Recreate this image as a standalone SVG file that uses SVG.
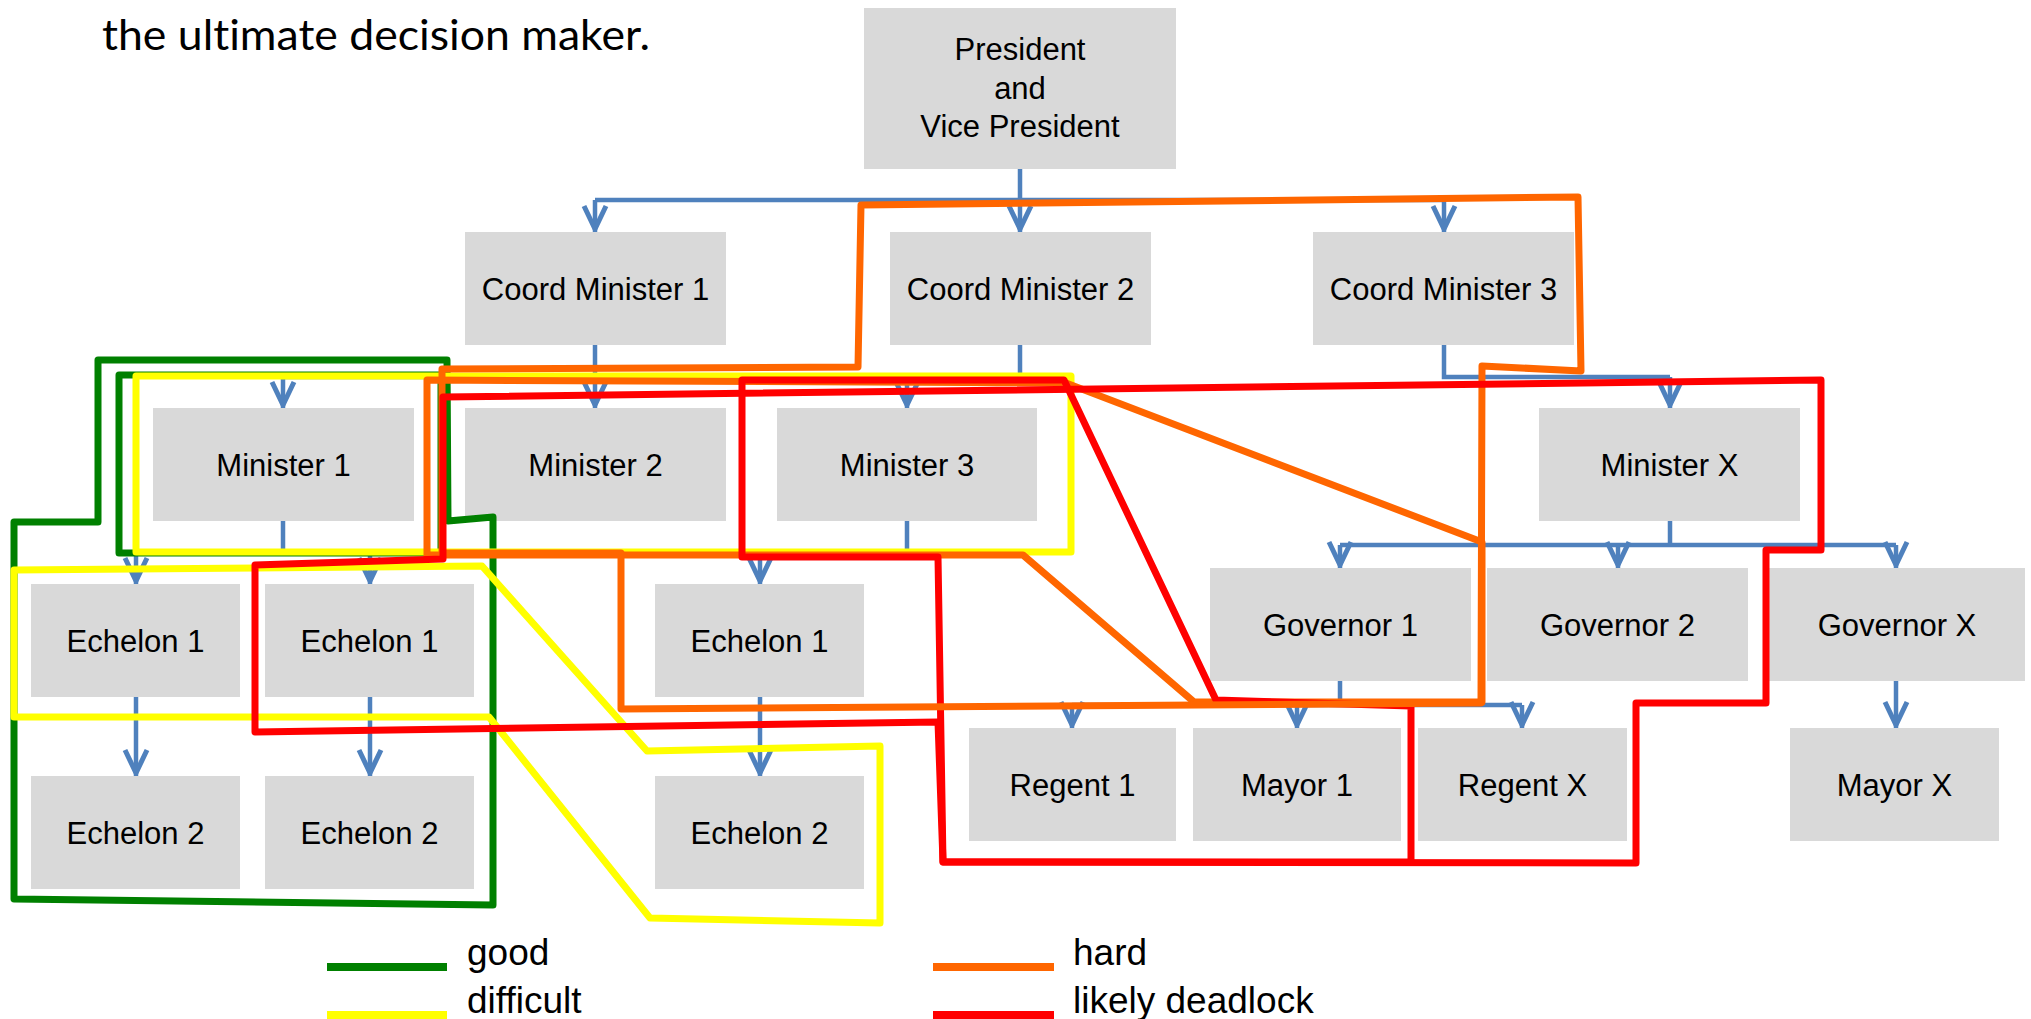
<svg xmlns="http://www.w3.org/2000/svg" width="2031" height="1019" viewBox="0 0 2031 1019">
<style>
.box{fill:#D9D9D9}
.t{font-family:"Liberation Sans",Arial,sans-serif;font-size:31px;fill:#000;text-anchor:middle}
.lg{font-family:"Liberation Sans",Arial,sans-serif;font-size:37px;fill:#000}
.c{fill:none;stroke:#4F81BD;stroke-width:4.5}
.a{marker-end:url(#arr)}
.h{fill:none;stroke-width:7;stroke-linejoin:round}
.g{stroke:#008000}.y{stroke:#FFFF00}.o{stroke:#FF6600}.r{stroke:#FF0000}
</style>
<defs>
<marker id="arr" markerUnits="userSpaceOnUse" markerWidth="34" markerHeight="32" viewBox="-28 -16 34 32" refX="3" refY="0" orient="auto" overflow="visible">
<path d="M-23,-11 L0,0 L-23,11" fill="none" stroke="#4F81BD" stroke-width="5"/>
</marker>
</defs>
<rect width="2031" height="1019" fill="#fff"/>
<text x="102" y="50" style="font-family:Lato,'Open Sans',sans-serif;font-size:43px;fill:#000;font-variant-ligatures:none" textLength="548" lengthAdjust="spacingAndGlyphs">the ultimate decision maker.</text>

<g id="connectors">
<path class="c" d="M1020,169 V200 M595,200 H1444"/>
<path class="c a" d="M595,200 V232"/>
<path class="c a" d="M1020,200 V232"/>
<path class="c a" d="M1444,200 V232"/>
<path class="c a" d="M595,345 V408"/>
<path class="c" d="M1020,345 V377 M283,377 H1020"/>
<path class="c a" d="M283,377 V408"/>
<path class="c a" d="M907,377 V408"/>
<path class="c" d="M1444,345 V377 H1670"/>
<path class="c a" d="M1670,377 V408"/>
<path class="c" d="M1670,521 V545 M1340,545 H1896"/>
<path class="c a" d="M1340,545 V568"/>
<path class="c a" d="M1618,545 V568"/>
<path class="c a" d="M1896,545 V568"/>
<path class="c" d="M1340,681 V705 M1072,705 H1522"/>
<path class="c a" d="M1072,705 V728"/>
<path class="c a" d="M1297,705 V728"/>
<path class="c a" d="M1522,705 V728"/>
<path class="c a" d="M1896,681 V728"/>
<path class="c" d="M283,521 V553 M136,553 H370"/>
<path class="c a" d="M136,553 V584"/>
<path class="c a" d="M370,553 V584"/>
<path class="c" d="M907,521 V553 H760"/>
<path class="c a" d="M760,553 V584"/>
<path class="c a" d="M136,697 V776"/>
<path class="c a" d="M370,697 V776"/>
<path class="c a" d="M760,697 V776"/>
</g>

<g id="president"><rect class="box" x="864" y="8" width="312" height="161"/>
<text class="t" x="1020" y="60">President</text><text class="t" x="1020" y="99">and</text><text class="t" x="1020" y="137">Vice President</text></g>
<g id="coord1"><rect class="box" x="465" y="232" width="261" height="113"/><text class="t" x="595.5" y="300">Coord Minister 1</text></g>
<g id="coord2"><rect class="box" x="890" y="232" width="261" height="113"/><text class="t" x="1020.5" y="300">Coord Minister 2</text></g>
<g id="coord3"><rect class="box" x="1313" y="232" width="261" height="113"/><text class="t" x="1443.5" y="300">Coord Minister 3</text></g>
<g id="minister1"><rect class="box" x="153" y="408" width="261" height="113"/><text class="t" x="283.5" y="476">Minister 1</text></g>
<g id="minister2"><rect class="box" x="465" y="408" width="261" height="113"/><text class="t" x="595.5" y="476">Minister 2</text></g>
<g id="minister3"><rect class="box" x="777" y="408" width="260" height="113"/><text class="t" x="907" y="476">Minister 3</text></g>
<g id="ministerX"><rect class="box" x="1539" y="408" width="261" height="113"/><text class="t" x="1669.5" y="476">Minister X</text></g>
<g id="ech1a"><rect class="box" x="31" y="584" width="209" height="113"/><text class="t" x="135.5" y="652">Echelon 1</text></g>
<g id="ech1b"><rect class="box" x="265" y="584" width="209" height="113"/><text class="t" x="369.5" y="652">Echelon 1</text></g>
<g id="ech1c"><rect class="box" x="655" y="584" width="209" height="113"/><text class="t" x="759.5" y="652">Echelon 1</text></g>
<g id="ech2a"><rect class="box" x="31" y="776" width="209" height="113"/><text class="t" x="135.5" y="844">Echelon 2</text></g>
<g id="ech2b"><rect class="box" x="265" y="776" width="209" height="113"/><text class="t" x="369.5" y="844">Echelon 2</text></g>
<g id="ech2c"><rect class="box" x="655" y="776" width="209" height="113"/><text class="t" x="759.5" y="844">Echelon 2</text></g>
<g id="gov1"><rect class="box" x="1210" y="568" width="261" height="113"/><text class="t" x="1340.5" y="636">Governor 1</text></g>
<g id="gov2"><rect class="box" x="1487" y="568" width="261" height="113"/><text class="t" x="1617.5" y="636">Governor 2</text></g>
<g id="govX"><rect class="box" x="1769" y="568" width="256" height="113"/><text class="t" x="1897" y="636">Governor X</text></g>
<g id="regent1"><rect class="box" x="969" y="728" width="207" height="113"/><text class="t" x="1072.5" y="796">Regent 1</text></g>
<g id="mayor1"><rect class="box" x="1193" y="728" width="208" height="113"/><text class="t" x="1297" y="796">Mayor 1</text></g>
<g id="regentX"><rect class="box" x="1418" y="728" width="209" height="113"/><text class="t" x="1522.5" y="796">Regent X</text></g>
<g id="mayorX"><rect class="box" x="1790" y="728" width="209" height="113"/><text class="t" x="1894.5" y="796">Mayor X</text></g>

<g id="regions">
<path class="h g" d="M98,360 L447,360 L448,521 L493,517 L493,905 L14,899 L14,522 L98,522 Z"/>
<path class="h g" d="M119,375 L441,375 L441,553 L119,553 Z"/>
<path class="h y" d="M136,376 L1071,376 L1071,552 L136,552 Z"/>
<path class="h y" d="M14,570 L482,566 L647,751 L880,746 L880,923 L650,918 L489,717 L14,717 Z"/>
<path class="h o" d="M427,380 L1066,383 L1482,542 L1482,702 L1194,702 L1023,555 L427,555 Z"/>
<path class="h r" d="M742,380 L1064,380 L1216,700 L1411,706 L1411,862 L943,862 L938,557 L742,557 Z"/>
<path class="h o" d="M861,205 L1578,197 L1581,371 L1482,366 L1481,703 L621,709 L621,553 L442,553 L442,369 L858,367 Z"/>
<path class="h r" d="M255,565 L443,559 L443,397 L1821,380 L1821,550 L1766,550 L1766,703 L1636,703 L1636,863 L943,862 L938,722 L255,732 Z"/>
</g>

<g id="legend">
<line x1="327" y1="967" x2="447" y2="967" stroke="#008000" stroke-width="8"/>
<line x1="327" y1="1015" x2="447" y2="1015" stroke="#FFFF00" stroke-width="8"/>
<line x1="933" y1="967" x2="1054" y2="967" stroke="#FF6600" stroke-width="8"/>
<line x1="933" y1="1015" x2="1054" y2="1015" stroke="#FF0000" stroke-width="8"/>
<text class="lg" x="467" y="965">good</text>
<text class="lg" x="467" y="1013">difficult</text>
<text class="lg" x="1073" y="965">hard</text>
<text class="lg" x="1073" y="1013">likely deadlock</text>
</g>
</svg>
